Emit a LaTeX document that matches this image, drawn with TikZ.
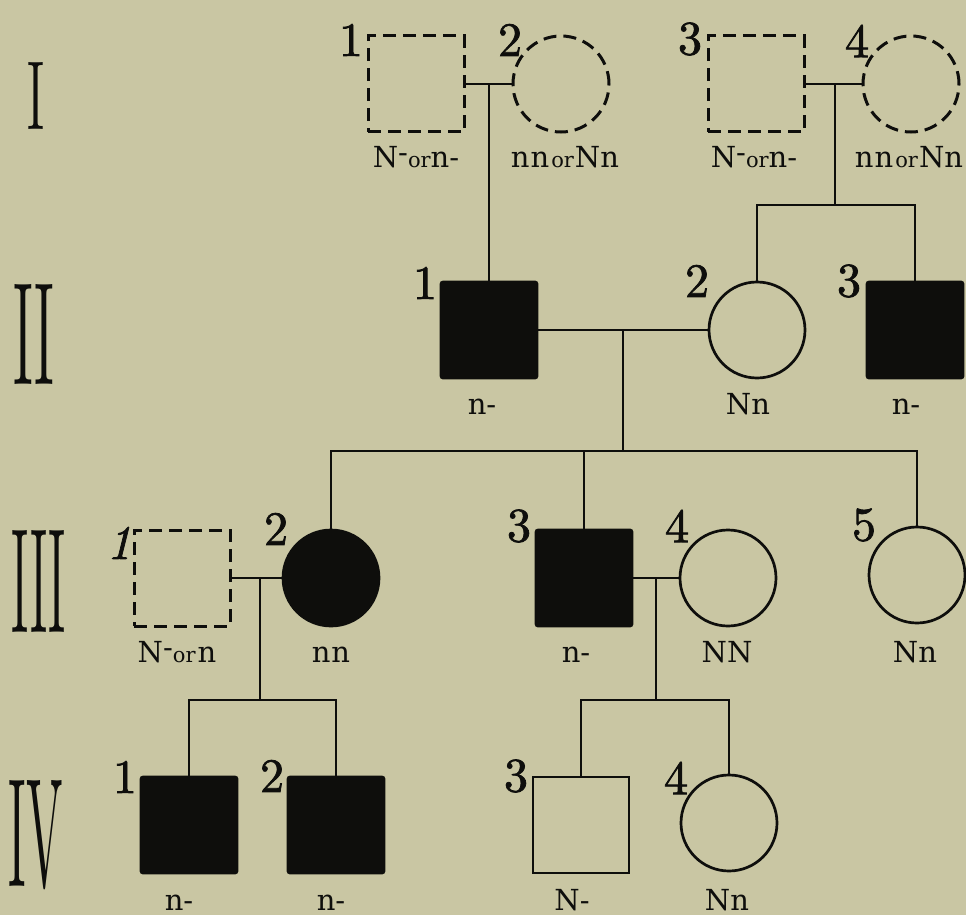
\documentclass[tikz,border=0pt]{standalone}
\usepackage{graphicx}
\usepackage{fontspec}
\newfontfamily\numfont{lmroman10-regular.otf}[FakeBold=1.6]
\newfontfamily\numitfont{lmroman10-italic.otf}[FakeBold=1.6]
\newfontfamily\genofont{DejaVu Serif}
\definecolor{paper}{RGB}{201,198,163}
\definecolor{ink}{RGB}{14,14,12}
\newcommand\smor{{\fontsize{21}{21}\selectfont or}}
\newcommand\hiph{\raisebox{5pt}{-}}
\begin{document}
\begin{tikzpicture}[x=1pt,y=-1pt,
  link/.style={line width=2.6pt, draw=ink},
  male/.style={rectangle, minimum size=96pt, inner sep=0, line width=2.7pt, draw=ink},
  female/.style={circle, minimum size=96pt, inner sep=0, line width=2.7pt, draw=ink},
  unknown/.style={dash pattern=on 13pt off 7pt, line width=3pt},
  affected/.style={fill=ink, rounded corners=2pt},
  num/.style={font=\numfont\fontsize{48}{48}\selectfont, inner sep=0, text=ink},
  geno/.style={font=\genofont\fontsize{29}{32}\selectfont, anchor=base, inner sep=0, text=ink},
  roman/.style={inner sep=0, text=ink}]
\fill[paper] (0,0) rectangle (966,915);
\useasboundingbox (0,0) rectangle (966,915);

% generation numerals
\node[roman] (GI)   at (36,96)  {\resizebox{17pt}{67pt}{I}};
\node[roman] (GII)  at (34,334) {\resizebox{41pt}{100pt}{II}};
\node[roman] (GIII) at (39,581) {\resizebox{54pt}{102pt}{III}};
\node[roman] (GIV)  at (36,835) {\resizebox{54pt}{106pt}{IV}};

% generation I
\node[male, unknown]   (I1) at (416,84) {};
\node[female, unknown] (I2) at (561,84) {};
\node[male, unknown]   (I3) at (756,84) {};
\node[female, unknown] (I4) at (911,84) {};
% generation II
\node[male, affected] (II1) at (489,330) {};
\node[female]         (II2) at (757,330) {};
\node[male, affected] (II3) at (915,330) {};
% generation III
\node[male, unknown]    (III1) at (182,578) {};
\node[female, affected] (III2) at (331,578) {};
\node[male, affected]   (III3) at (584,578) {};
\node[female]           (III4) at (728,578) {};
\node[female]           (III5) at (917,575) {};
% generation IV
\node[male, affected] (IV1) at (189,825) {};
\node[male, affected] (IV2) at (336,825) {};
\node[male]           (IV3) at (581,825) {};
\node[female]         (IV4) at (729,823) {};

% junction points
\coordinate (mI1) at (489,84);
\coordinate (mI2) at (835,84);
\coordinate (sII) at (835,205);
\coordinate (mII) at (623,330);
\coordinate (sIII) at (623,451);
\coordinate (mIII1) at (260,578);
\coordinate (sIV1) at (260,700);
\coordinate (mIII2) at (656,578);
\coordinate (sIV2) at (656,700);

% connectors
\draw[link] (I1) -- (I2);
\draw[link] (mI1) -- (II1);
\draw[link] (I3) -- (I4);
\draw[link] (mI2) -- (sII);
\draw[link] (II2.north) |- (sII) -| (II3.north);
\draw[link] (II1) -- (II2);
\draw[link] (mII) -- (sIII);
\draw[link] (III2.north) |- (sIII) -| (III5.north);
\draw[link] (III3.north) -- (III3.north |- sIII);
\draw[link] (III1) -- (III2);
\draw[link] (mIII1) -- (sIV1);
\draw[link] (IV1.north) |- (sIV1) -| (IV2.north);
\draw[link] (III3) -- (III4);
\draw[link] (mIII2) -- (sIV2);
\draw[link] (IV3.north) |- (sIV2) -| (IV4.north);

% individual numbers
\node[num] (nI1) at (351,40) {1};
\node[num] (nI2) at (510,40) {2};
\node[num] (nI3) at (690,39) {3};
\node[num] (nI4) at (857,41) {4};
\node[num] (nII1) at (425,283) {1};
\node[num] (nII2) at (697,281) {2};
\node[num] (nII3) at (849,281) {3};
\node[num] (nIII1) at (119,543) {\numitfont 1};
\node[num] (nIII2) at (276,529) {2};
\node[num] (nIII3) at (519,526) {3};
\node[num] (nIII4) at (677,526) {4};
\node[num] (nIII5) at (864,525) {5};
\node[num] (nIV1) at (125,777) {1};
\node[num] (nIV2) at (272,776) {2};
\node[num] (nIV3) at (516,776) {3};
\node[num] (nIV4) at (676,778) {4};

% genotypes
\node[geno] (gI1) at (416,167) {N\hiph\smor n-};
\node[geno] (gI2) at (565,167) {n\kern1pt n\kern2pt\smor\kern1pt Nn};
\node[geno] (gI3) at (754,167) {N\hiph\smor n-};
\node[geno] (gI4) at (909,167) {n\kern1pt n\kern2pt\smor\kern1pt Nn};
\node[geno] (gII1) at (482,414) {n-};
\node[geno] (gII2) at (748,414) {Nn};
\node[geno] (gII3) at (906,414) {n-};
\node[geno] (gIII1) at (177,662) {N\hiph\smor\kern2pt n};
\node[geno] (gIII2) at (331,662) {n\kern1pt n};
\node[geno] (gIII3) at (576,662) {n-};
\node[geno] (gIII4) at (727,662) {NN};
\node[geno] (gIII5) at (915,662) {Nn};
\node[geno] (gIV1) at (179,910) {n-};
\node[geno] (gIV2) at (331,910) {n-};
\node[geno] (gIV3) at (572,910) {N-};
\node[geno] (gIV4) at (727,910) {Nn};
\end{tikzpicture}
\end{document}
